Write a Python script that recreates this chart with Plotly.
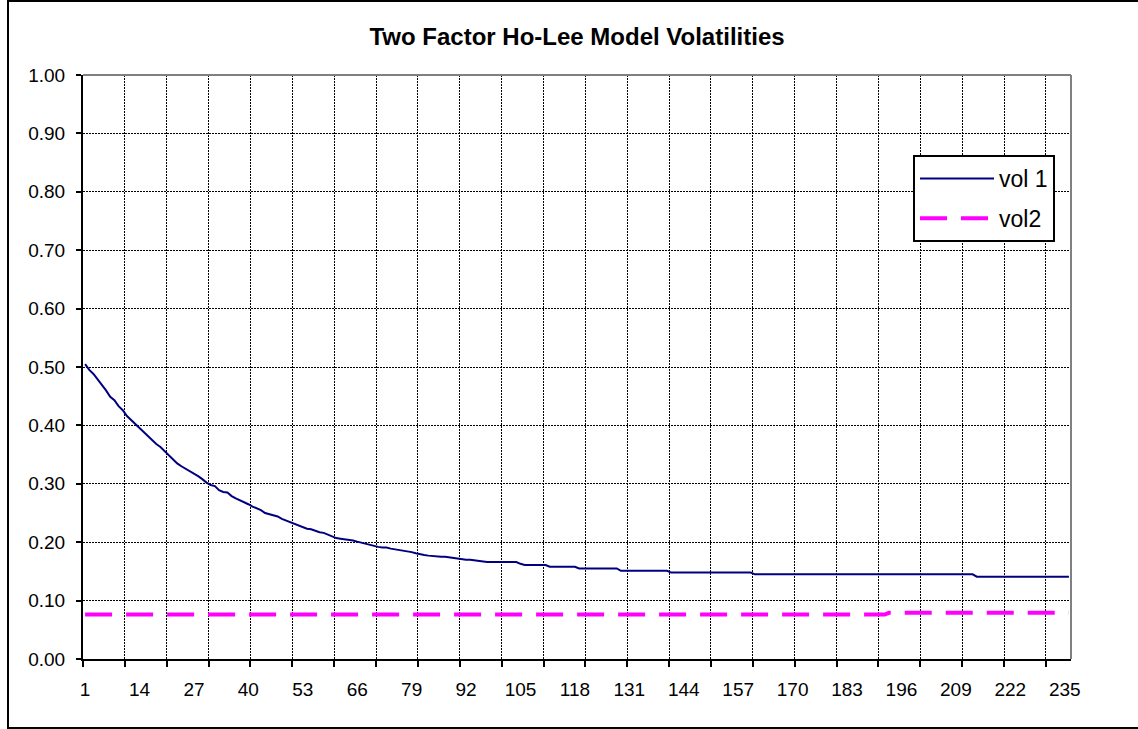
import plotly.graph_objects as go

categories = list(range(1, 237))

tick_labels = [1, 14, 27, 40, 53, 66, 79, 92, 105, 118, 131, 144, 157, 170,
               183, 196, 209, 222, 235]

vol1 = [
    0.505, 0.495, 0.488, 0.479, 0.470, 0.460, 0.449, 0.443, 0.433, 0.426,
    0.416, 0.409, 0.402, 0.395, 0.389, 0.382, 0.375, 0.368, 0.363, 0.356,
    0.350, 0.342, 0.335, 0.330, 0.326, 0.322, 0.318, 0.313, 0.308, 0.302,
    0.298, 0.296, 0.289, 0.286, 0.285, 0.279, 0.275, 0.272, 0.268, 0.265,
    0.261, 0.258, 0.255, 0.250, 0.248, 0.247, 0.244, 0.240, 0.237, 0.234,
    0.231, 0.228, 0.225, 0.223, 0.222, 0.219, 0.217, 0.216, 0.213, 0.210,
    0.207, 0.206, 0.205, 0.205, 0.203, 0.201, 0.199, 0.197, 0.196, 0.194,
    0.192, 0.191, 0.191, 0.189, 0.188, 0.187, 0.186, 0.185, 0.183, 0.181,
    0.179, 0.178, 0.177, 0.176, 0.176, 0.175, 0.175, 0.174, 0.173, 0.171,
    0.171, 0.170, 0.170, 0.169, 0.167, 0.166, 0.166, 0.166, 0.166, 0.166,
    0.166, 0.166, 0.166, 0.166, 0.163, 0.161, 0.161, 0.161, 0.161, 0.161,
    0.161, 0.158, 0.158, 0.158, 0.158, 0.158, 0.158, 0.158, 0.155, 0.155,
    0.155, 0.155, 0.155, 0.155, 0.155, 0.155, 0.155, 0.155, 0.151, 0.151,
    0.151, 0.151, 0.151, 0.151, 0.151, 0.151, 0.151, 0.151, 0.151, 0.151,
    0.148, 0.148, 0.148, 0.148, 0.148, 0.148, 0.148, 0.148, 0.148, 0.148,
    0.148, 0.148, 0.148, 0.148, 0.148, 0.148, 0.148, 0.148, 0.148, 0.148,
    0.145, 0.145, 0.145, 0.145, 0.145, 0.145, 0.145, 0.145, 0.145, 0.145,
    0.145, 0.145, 0.145, 0.145, 0.145, 0.145, 0.145, 0.145, 0.145, 0.145,
    0.145, 0.145, 0.145, 0.145, 0.145, 0.145, 0.145, 0.145, 0.145, 0.145,
    0.145, 0.145, 0.145, 0.145, 0.145, 0.145, 0.145, 0.145, 0.145, 0.145,
    0.145, 0.145, 0.145, 0.145, 0.145, 0.145, 0.145, 0.145, 0.145, 0.145,
    0.145, 0.145, 0.145, 0.141, 0.141, 0.141, 0.141, 0.141, 0.141, 0.141,
    0.141, 0.141, 0.141, 0.141, 0.141, 0.141, 0.141, 0.141, 0.141, 0.141,
    0.141, 0.141, 0.141, 0.141, 0.141, 0.141,
]

vol2 = [0.076] * 192 + [0.079] * 44

FONT = "Liberation Sans, Arial, sans-serif"

fig = go.Figure()
fig.add_trace(go.Scatter(
    x=categories, y=vol1, name="vol 1", mode="lines",
    line=dict(color="#000080", width=2), legendgroup="a",
))
fig.add_trace(go.Scatter(
    x=categories, y=vol2, name="vol2", mode="lines",
    line=dict(color="#FF00FF", width=4, dash="27px,14px"), legendgroup="b",
))

fig.update_layout(
    width=1138, height=729,
    margin=dict(l=83, r=67, t=75, b=70),
    paper_bgcolor="white", plot_bgcolor="white",
    font=dict(family=FONT, color="black", size=19),
    title=dict(
        text="<b>Two Factor Ho-Lee Model Volatilities</b>",
        x=0.5, xref="paper", xanchor="center",
        y=1 - 37 / 729, yref="container", yanchor="middle",
        font=dict(family=FONT, size=24, color="black"),
    ),
    showlegend=True,
    legend=dict(
        x=(913 - 83) / 988, y=(659 - 155) / 584,
        xanchor="left", yanchor="top",
        bgcolor="white", bordercolor="black", borderwidth=2,
        font=dict(family=FONT, size=23, color="black"),
        itemwidth=74, tracegroupgap=7,
    ),
    xaxis=dict(
        range=[0.5, 236.5],
        tickmode="array", tickvals=tick_labels,
        ticktext=[str(t) for t in tick_labels],
        ticks="outside", ticklen=6, tickcolor="rgba(0,0,0,0)",
        ticklabelstandoff=6,
        showgrid=False, zeroline=False,
        showline=True, linecolor="black", linewidth=2,
        tickfont=dict(family=FONT, size=19, color="black"),
        minor=dict(
            tickmode="linear", tick0=0.5, dtick=10,
            ticks="outside", ticklen=6, tickwidth=2, tickcolor="black",
            showgrid=True, gridcolor="black", gridwidth=1, griddash="2px,1px",
        ),
    ),
    yaxis=dict(
        range=[0, 1], tickmode="linear", tick0=0, dtick=0.1,
        tickformat=".2f",
        ticks="outside", ticklen=5, tickwidth=2, tickcolor="black",
        ticklabelstandoff=7,
        showgrid=True, gridcolor="black", gridwidth=1, griddash="2px,1px",
        zeroline=False,
        showline=True, linecolor="black", linewidth=2,
        tickfont=dict(family=FONT, size=19, color="black"),
    ),
    shapes=[
        dict(type="line", xref="paper", yref="paper", x0=0, x1=1, y0=1, y1=1,
             line=dict(color="#808080", width=2)),
        dict(type="line", xref="paper", yref="paper", x0=1, x1=1, y0=0, y1=1,
             line=dict(color="#808080", width=2)),
        dict(type="rect", xref="paper", yref="paper",
             x0=(8 - 83) / 988, x1=(1145 - 83) / 988,
             y0=(659 - 728) / 584, y1=(659 - 1) / 584,
             line=dict(color="black", width=2), fillcolor="rgba(0,0,0,0)"),
    ],
)

fig.write_html("out.html")
